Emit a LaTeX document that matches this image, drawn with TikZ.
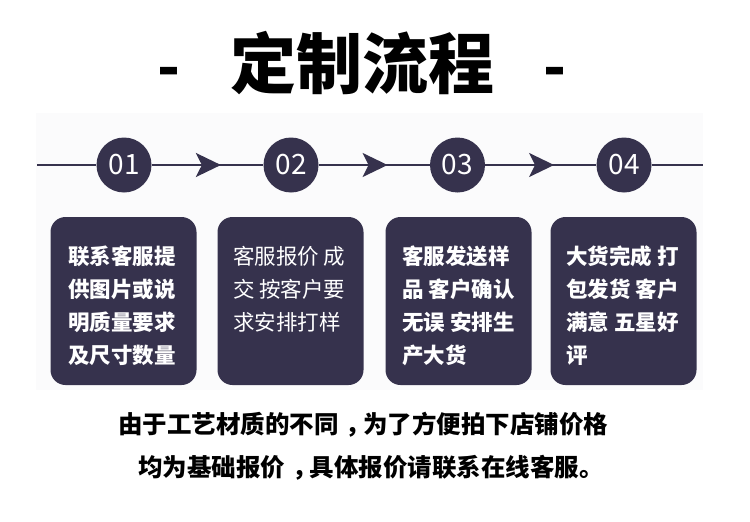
\documentclass[tikz,border=0pt]{standalone}
\usepackage{fontspec}
\setmainfont{Noto Sans CJK SC}
\usetikzlibrary{arrows.meta,decorations.markings}
\definecolor{navy}{RGB}{54,50,77}
\definecolor{panel}{RGB}{251,251,252}
\newcommand{\cmid}{\hspace{0.3em}，\hspace{-0.3em}}
\begin{document}
\begin{tikzpicture}[x=1pt,y=-1pt,
  num/.style={circle, fill=navy, minimum size=55pt, inner sep=0pt, text=white,
    font=\fontsize{28}{28}\selectfont},
  card/.style={rounded corners=15pt, fill=navy, minimum width=146pt, minimum height=168pt, inner sep=0pt},
  cardtext/.style={text=white, align=left, anchor=north west, inner sep=0pt,
    font=\fontsize{21.5}{33}\selectfont},
  boldcard/.style={cardtext, font=\fontsize{21.5}{33}\selectfont\bfseries},
  flow/.style={draw=navy, line width=2pt},
  midarrow/.style={postaction={decorate}, decoration={markings,
    mark=at position 0.62 with {\arrow{Stealth[length=25pt,width=24pt,inset=6pt,navy]}}}},
  bottomtext/.style={anchor=base, inner sep=0pt, font=\fontsize{24.5}{24.5}\selectfont\bfseries}
]
\useasboundingbox (0,0) rectangle (750,522);
\fill[white] (0,0) rectangle (750,522);
\fill[panel] (36,113) rectangle (703,390);

% title
\node[anchor=base, inner sep=0pt, font=\fontsize{66}{66}\selectfont\bfseries] (title) at (362,88) {定制流程};
\node[anchor=base, inner sep=0pt, font=\fontsize{60}{60}\selectfont\bfseries] (dashL) at (169,88) {-};
\node[anchor=base, inner sep=0pt, font=\fontsize{60}{60}\selectfont\bfseries] (dashR) at (555,88) {-};

% timeline
\coordinate (lstart) at (37,165);
\coordinate (lend) at (703,165);
\node[num] (c1) at (124,165) {01};
\node[num] (c2) at (291,165) {02};
\node[num] (c3) at (457.5,165) {03};
\node[num] (c4) at (624,165) {04};
\draw[flow] (lstart) -- (c1);
\draw[flow, midarrow] (c1) -- (c2);
\draw[flow, midarrow] (c2) -- (c3);
\draw[flow, midarrow] (c3) -- (c4);
\draw[flow] (c4) -- (lend);

% cards
\node[card] (b1) at (123.5,301) {};
\node[card] (b2) at (290.5,301) {};
\node[card] (b3) at (458.5,301) {};
\node[card] (b4) at (623.5,301) {};

\node[boldcard] (t1) at (68,246) {联系客服提\\供图片或说\\明质量要求\\及尺寸数量};
\node[cardtext] (t2) at (233,246) {客服报价 成\\交 按客户要\\求安排打样};
\node[boldcard] (t3) at (402,246) {客服发送样\\品 客户确认\\无误 安排生\\产大货};
\node[boldcard] (t4) at (566,246) {大货完成 打\\包发货 客户\\满意 五星好\\评};

% bottom text
\node[bottomtext] (n1) at (363,433) {由于工艺材质的不同\cmid 为了方便拍下店铺价格};
\node[bottomtext] (n2) at (371,476) {均为基础报价\cmid 具体报价请联系在线客服。};
\end{tikzpicture}
\end{document}
